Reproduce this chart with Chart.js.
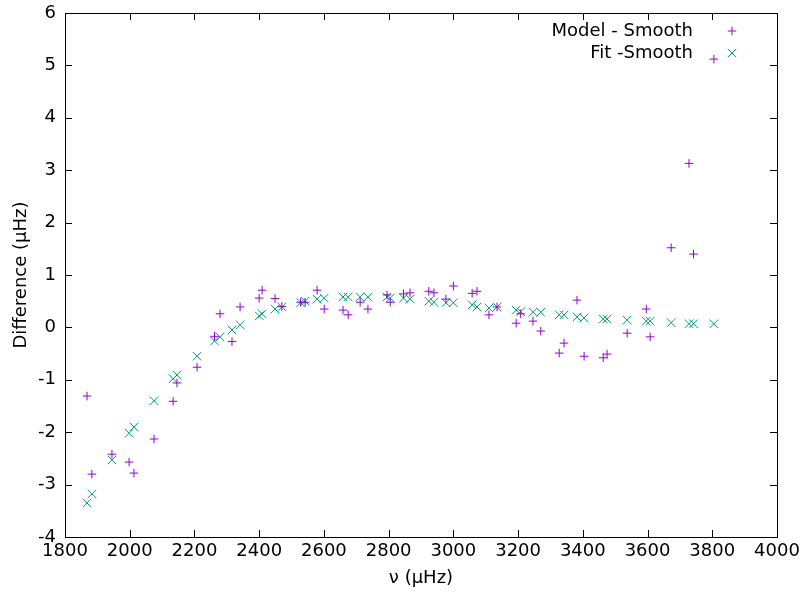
<!DOCTYPE html>
<html>
<head>
<meta charset="utf-8">
<script src="https://cdn.jsdelivr.net/npm/chart.js@4/dist/chart.umd.min.js"></script>
<style>
  html, body { margin: 0; padding: 0; background: #fff; }
  canvas { display: block; }
</style>
</head>
<body>
<canvas id="diffChart" width="804" height="593"></canvas>
<script>
// frequencies (µHz) shared by both series
var freq = [1868, 1883, 1945, 1998, 2013, 2075, 2134, 2146, 2208, 2262,
  2279, 2316, 2341, 2400, 2409, 2449, 2470, 2528, 2542, 2579,
  2601, 2659, 2675, 2712, 2736, 2795, 2805, 2846, 2866, 2924,
  2940, 2977, 3000, 3058, 3073, 3110, 3135, 3194, 3208, 3246,
  3270, 3327, 3342, 3382, 3404, 3463, 3475, 3537, 3596, 3608,
  3673, 3728, 3742, 3805];

var modelDiff = [-1.31, -2.80, -2.42, -2.57, -2.78, -2.13, -1.41, -1.06, -0.76, -0.17,
  0.26, -0.27, 0.39, 0.56, 0.71, 0.55, 0.40, 0.48, 0.48, 0.71,
  0.35, 0.33, 0.24, 0.48, 0.35, 0.62, 0.48, 0.64, 0.66, 0.69,
  0.66, 0.54, 0.79, 0.65, 0.69, 0.24, 0.39, 0.08, 0.26, 0.12,
  -0.07, -0.49, -0.30, 0.52, -0.55, -0.58, -0.51, -0.11, 0.35, -0.18,
  1.52, 3.13, 1.40, 5.12];

var fitDiff = [-3.35, -3.18, -2.53, -2.02, -1.90, -1.40, -0.98, -0.91, -0.55, -0.26,
  -0.18, -0.05, 0.05, 0.22, 0.26, 0.35, 0.39, 0.47, 0.50, 0.54,
  0.56, 0.58, 0.58, 0.58, 0.58, 0.58, 0.56, 0.56, 0.54, 0.50,
  0.48, 0.47, 0.47, 0.43, 0.39, 0.37, 0.39, 0.33, 0.30, 0.29,
  0.29, 0.24, 0.24, 0.20, 0.18, 0.16, 0.16, 0.14, 0.12, 0.12,
  0.09, 0.07, 0.07, 0.07];

var seriesNames = ['Model - Smooth', 'Fit -Smooth'];
var purple = '#9400d3';
var green = '#009e73';
var font = { family: 'DejaVu Sans', size: 18 };

function pts(ys) {
  var out = [];
  for (var i = 0; i < freq.length; i++) out.push({ x: freq[i], y: ys[i] });
  return out;
}

// gnuplot style frame with inward ticks on all four sides + legend
var framePlugin = {
  id: 'frame',
  afterDraw: function(chart) {
    var ctx = chart.ctx, a = chart.chartArea;
    var sx = chart.scales.x, sy = chart.scales.y, tl = 7;
    ctx.save();
    ctx.strokeStyle = '#000';
    ctx.lineWidth = 1;
    ctx.beginPath();
    sx.ticks.forEach(function(t) {
      var px = Math.round(sx.getPixelForValue(t.value)) + 0.5;
      ctx.moveTo(px, a.bottom); ctx.lineTo(px, a.bottom - tl);
      ctx.moveTo(px, a.top); ctx.lineTo(px, a.top + tl);
    });
    sy.ticks.forEach(function(t) {
      var py = Math.round(sy.getPixelForValue(t.value)) + 0.5;
      ctx.moveTo(a.left, py); ctx.lineTo(a.left + tl, py);
      ctx.moveTo(a.right, py); ctx.lineTo(a.right - tl, py);
    });
    ctx.stroke();
    ctx.strokeRect(Math.round(a.left) + 0.5, Math.round(a.top) + 0.5,
      Math.round(a.right - a.left), Math.round(a.bottom - a.top));

    // key
    ctx.font = '18px "DejaVu Sans"';
    ctx.textAlign = 'right';
    ctx.textBaseline = 'middle';
    ctx.fillStyle = '#000';
    chart.data.datasets.forEach(function(ds, i) {
      var y = 31 + i * 22, x = 732;
      ctx.fillText(ds.label, 693, y);
      ctx.strokeStyle = ds.borderColor;
      ctx.beginPath();
      if (ds.pointStyle === 'cross') {
        ctx.moveTo(x - 4.3, y); ctx.lineTo(x + 4.3, y);
        ctx.moveTo(x, y - 4.3); ctx.lineTo(x, y + 4.3);
      } else {
        ctx.moveTo(x - 4.2, y - 4.2); ctx.lineTo(x + 4.2, y + 4.2);
        ctx.moveTo(x + 4.2, y - 4.2); ctx.lineTo(x - 4.2, y + 4.2);
      }
      ctx.stroke();
    });
    ctx.restore();
  }
};

new Chart(document.getElementById('diffChart'), {
  type: 'scatter',
  data: {
    datasets: [{
      label: seriesNames[0],
      data: pts(modelDiff),
      pointStyle: 'cross',
      pointRadius: 4.3,
      borderColor: purple,
      backgroundColor: purple,
      borderWidth: 1
    }, {
      label: seriesNames[1],
      data: pts(fitDiff),
      pointStyle: 'crossRot',
      pointRadius: 6,
      borderColor: green,
      backgroundColor: green,
      borderWidth: 1
    }]
  },
  options: {
    responsive: false,
    animation: false,
    devicePixelRatio: 1,
    layout: { padding: { top: 13, right: 27, left: 0, bottom: 0 } },
    plugins: {
      legend: { display: false },
      tooltip: { enabled: false }
    },
    scales: {
      x: {
        type: 'linear',
        min: 1800, max: 4000,
        afterFit: function(s) { s.height = 56; s.paddingLeft = 0; s.paddingRight = 0; },
        grid: { display: false, drawTicks: false },
        border: { display: false },
        ticks: {
          stepSize: 200, padding: 4, color: '#000', font: font,
          maxRotation: 0, autoSkip: false,
          callback: function(v) { return String(v); }
        },
        title: { display: true, text: 'ν (µHz)', color: '#000', font: font, padding: { bottom: 4 } }
      },
      y: {
        type: 'linear',
        min: -4, max: 6,
        afterFit: function(s) { s.width = 65; s.paddingTop = 0; s.paddingBottom = 0; },
        grid: { display: false, drawTicks: false },
        border: { display: false },
        ticks: {
          stepSize: 1, padding: 9, color: '#000', font: font,
          callback: function(v) { return String(v); }
        },
        title: { display: true, text: 'Difference (µHz)', color: '#000', font: font, padding: { top: 11 } }
      }
    }
  },
  plugins: [framePlugin]
});
</script>
</body>
</html>
